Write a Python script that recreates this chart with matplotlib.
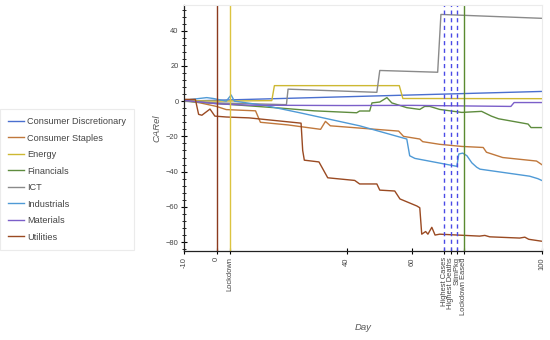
import matplotlib
matplotlib.use("Agg")
from matplotlib import pyplot as plt
from matplotlib.lines import Line2D
from matplotlib.ticker import MultipleLocator

plt.rcParams['font.family'] = ['Liberation Sans', 'DejaVu Sans']

# breakpoints: (day, CARel)
cd_days = [-10, 100]
cd_vals = [0.0, 5.5]

cs_days = [-10, -5, 0, 3, 12, 13.5, 22, 32, 33.5, 35, 56, 57.5, 62.5, 63.4, 68.6, 75.4, 82, 83, 88, 98.4, 100]
cs_vals = [0.5, -1, -3, -4.8, -5.5, -12, -13.5, -16, -11.5, -14, -17, -20, -21.5, -23, -24.5, -25.7, -26.3, -29, -32, -34, -36]

en_days = [-10, 0, 17, 17.8, 56.2, 57.3, 100]
en_vals = [0.3, 0.0, 0.3, 8.8, 8.8, 1.5, 1.4]

fi_days = [-10, 5, 20, 30, 43.1, 44, 47.1, 47.8, 50.2, 52.4, 53.9, 58.5, 62.5, 64, 65.6, 68.6, 75.4, 81.5, 84.5, 86.7, 95.8, 96.7, 100]
fi_vals = [0.0, -2, -4, -5.5, -6.6, -5.6, -5.6, -1, -0.5, 2, -1, -3.7, -4.7, -3, -3, -4.7, -6.4, -5.8, -8.5, -10, -13, -15, -15]

ict_days = [-10, 0, 21.5, 22, 49.3, 50.2, 68, 69, 100]
ict_vals = [0.0, -1, -2, 6.8, 5.0, 17.4, 16.4, 49.2, 47.0]

ind_days = [-10, -3, -1, 3, 4.5, 5.5, 15, 25.6, 44, 58.5, 59.4, 61, 73.9, 74.5, 75.7, 77, 78.5, 80, 81, 96.3, 98.8, 100]
ind_vals = [0.5, 2, 1.5, 0, 3.5, 0, -2.5, -6.6, -14, -21.5, -31, -32.5, -37, -30, -29.5, -31, -35, -37.5, -38.6, -42.6, -44, -45]

ma_days = [-10, 0, 10, 40, 60, 70, 90.5, 91.5, 100]
ma_vals = [0.5, -1.5, -2.3, -2.5, -2.4, -2.6, -3.0, -0.8, -0.8]

ut_days = [-10, -6.5, -5.5, -4.5, -2, -0.5, 3, 10, 26, 26.5, 27, 31.5, 34.2, 42.5, 44, 49.3, 50.2, 54.8, 56.4, 61.6, 62.5,
           63.1, 64.3, 65, 66.2, 67.2, 68.6, 80.9, 82.5, 84, 93.2, 94.8, 96, 100]
ut_vals = [1, 1, -7.5, -8, -4.5, -8.5, -9, -9.5, -12.5, -28, -33.5, -34.5, -43.5, -45, -47, -47, -50.5, -51, -55.5, -59.5, -60.5,
           -75.5, -74, -75.5, -71.6, -76, -75.5, -76.6, -76.2, -77, -77.7, -77.2, -78.4, -79.5]

series = [
    ("Consumer Discretionary", cd_days, cd_vals, '#4a6fcf'),
    ("Consumer Staples", cs_days, cs_vals, '#c0783c'),
    ("Energy", en_days, en_vals, '#cdb832'),
    ("Financials", fi_days, fi_vals, '#5e8c3e'),
    ("ICT", ict_days, ict_vals, '#8a8a8a'),
    ("Industrials", ind_days, ind_vals, '#4f9ad6'),
    ("Materials", ma_days, ma_vals, '#7b5fc9'),
    ("Utilities", ut_days, ut_vals, '#9a4a22'),
]

tick_pos = [-10, 0, 4, 40, 60, 70, 72, 74, 76, 100]
tick_lab = ["-10", "0", "Lockdown", "40", "60", "Highest Cases", "Highest Deaths", "StimPkg", "Lockdown Eased", "100"]

fig = plt.figure(figsize=(5.5, 3.4), dpi=100)
ax = fig.add_axes([0.3345, 0.262, 0.6505, 0.723])

for name, d, v, c in series:
    ax.plot(d, v, color=c, lw=1.0, label=name)

# event markers
ax.axvline(0, color='#8b3a1e', lw=1.0)
ax.axvline(4, color='#dcc440', lw=1.0)
for xv in [70, 72, 74]:
    ax.axvline(xv, color='#4a4ae6', lw=1.0, dashes=(3, 2.5))
ax.axvline(76, color='#5a8a30', lw=1.0)

ax.set_xlim(-10, 100)
ax.set_ylim(-85, 54.5)
ax.set_xticks(tick_pos)
ax.set_xticklabels(tick_lab, rotation=90, fontsize=5.4, color='#444444', va='top')
ax.yaxis.set_major_locator(MultipleLocator(20))
ax.yaxis.set_minor_locator(MultipleLocator(4))
ax.tick_params(axis='y', labelsize=5.4, labelcolor='#444444', direction='inout', length=5, width=0.8, pad=1.5)
ax.tick_params(axis='y', which='minor', direction='inout', length=3, width=0.6)
ax.tick_params(axis='x', direction='inout', length=5, width=0.8, pad=2)

for s in ['top', 'right']:
    ax.spines[s].set_color('#ebebeb')
    ax.spines[s].set_linewidth(0.8)
for s in ['left', 'bottom']:
    ax.spines[s].set_color('#222222')
    ax.spines[s].set_linewidth(0.9)

ax.set_xlabel("Day", fontsize=6.8, style='italic', color='#555555')
ax.xaxis.set_label_coords(0.5, -0.295)
ax.set_ylabel("CARel", fontsize=6.8, style='italic', color='#555555', labelpad=3)

handles = [Line2D([0], [0], color=c, lw=1.0) for _, _, _, c in series]
names = [n for n, _, _, _ in series]
leg = fig.legend(handles, names, loc='upper left', bbox_to_anchor=(0.0, 0.68),
                 fontsize=6.6, handlelength=1.7, handletextpad=0.35, labelspacing=0.82,
                 frameon=True, fancybox=False, borderpad=0.9, borderaxespad=0)
leg.get_frame().set_edgecolor('#e6e6e6')
leg.get_frame().set_linewidth(0.8)
for t in leg.get_texts():
    t.set_color('#444444')

fig.savefig("out.png", dpi=100)
